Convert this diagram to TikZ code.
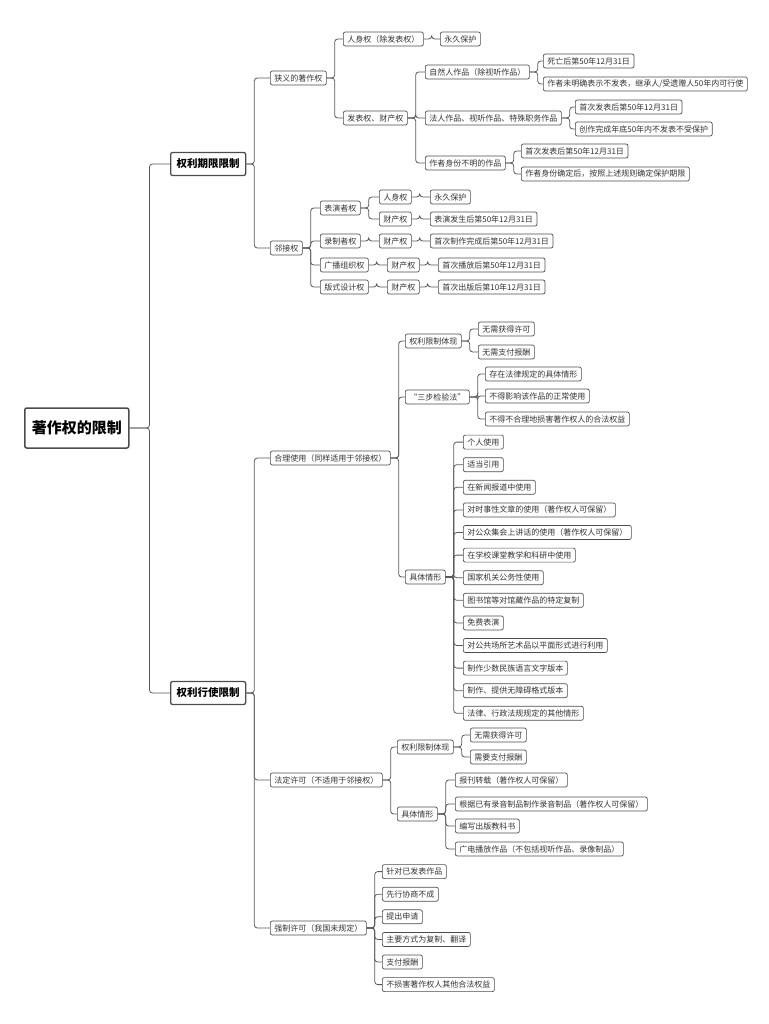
\documentclass[tikz,border=0pt]{standalone}
\usepackage{fontspec}
\setmainfont{Noto Sans CJK SC}
\begin{document}
\begin{tikzpicture}[x=1pt,y=-1pt,
 b/.style={draw=black!70,line width=0.7pt,rounded corners=2pt,anchor=west,inner xsep=4pt,inner ysep=0pt,minimum height=14pt,font=\fontsize{8}{9}\selectfont,text=black!80},
 l1/.style={b,line width=1.3pt,minimum height=23pt,inner xsep=6pt,font=\fontsize{10.5}{12}\bfseries\selectfont,text=black},
 root/.style={b,line width=1.5pt,minimum height=40pt,inner xsep=7pt,font=\fontsize{15}{17}\bfseries\selectfont,text=black},
 conn/.style={draw=black!65,line width=0.8pt,rounded corners=3pt}]
\useasboundingbox (0,0) rectangle (768,1024);
\newcommand\cn[3][8]{\draw[conn] (#2.east) -- ++(#1,0) |- (#3.west);}
\node[root] (r) at (24,428) {著作权的限制};
\node[l1] (a) at (170,164) {权利期限限制};
\node[l1] (bb) at (170,693) {权利行使限制};
\cn[20]{r}{a}\cn[20]{r}{bb}
% period
\node[b] (a1) at (270,78) {狭义的著作权};
\node[b] (a2) at (270,248) {邻接权};
\cn{a}{a1}\cn{a}{a2}
\node[b] (a11) at (343,39) {人身权（除发表权）};
\node[b] (a111) at (440,39) {永久保护};
\node[b] (a12) at (343,118) {发表权、财产权};
\cn{a1}{a11}\cn{a1}{a12}\cn{a11}{a111}
\node[b] (n1) at (425,72) {自然人作品（除视听作品）};
\node[b] (n11) at (543,61) {死亡后第50年12月31日};
\node[b] (n12) at (543,84) {作者未明确表示不发表，继承人/受遗赠人50年内可行使};
\node[b] (n2) at (425,118) {法人作品、视听作品、特殊职务作品};
\node[b] (n21) at (575,107) {首次发表后第50年12月31日};
\node[b] (n22) at (575,129) {创作完成年底50年内不发表不受保护};
\node[b] (n3) at (425,163) {作者身份不明的作品};
\node[b] (n31) at (521,151) {首次发表后第50年12月31日};
\node[b] (n32) at (521,174) {作者身份确定后，按照上述规则确定保护期限};
\cn{a12}{n1}\cn{a12}{n2}\cn{a12}{n3}
\cn{n1}{n11}\cn{n1}{n12}\cn{n2}{n21}\cn{n2}{n22}\cn{n3}{n31}\cn{n3}{n32}
\node[b] (p1) at (320,208) {表演者权};
\node[b] (p11) at (379,197) {人身权};
\node[b] (p111) at (430,197) {永久保护};
\node[b] (p12) at (379,219) {财产权};
\node[b] (p121) at (430,219) {表演发生后第50年12月31日};
\node[b] (p2) at (320,241) {录制者权};
\node[b] (p21) at (379,241) {财产权};
\node[b] (p211) at (430,241) {首次制作完成后第50年12月31日};
\node[b] (p3) at (320,265) {广播组织权};
\node[b] (p31) at (387,265) {财产权};
\node[b] (p311) at (438,265) {首次播放后第50年12月31日};
\node[b] (p4) at (320,287) {版式设计权};
\node[b] (p41) at (387,287) {财产权};
\node[b] (p411) at (438,287) {首次出版后第10年12月31日};
\cn{a2}{p1}\cn{a2}{p2}\cn{a2}{p3}\cn{a2}{p4}
\cn{p1}{p11}\cn{p1}{p12}\cn{p11}{p111}\cn{p12}{p121}
\cn{p2}{p21}\cn{p21}{p211}\cn{p3}{p31}\cn{p31}{p311}\cn{p4}{p41}\cn{p41}{p411}
% exercise
\node[b] (c1) at (270,458) {合理使用（同样适用于邻接权）};
\node[b] (c2) at (270,780) {法定许可（不适用于邻接权）};
\node[b] (c3) at (270,928) {强制许可（我国未规定）};
\cn{bb}{c1}\cn{bb}{c2}\cn{bb}{c3}
\node[b] (d1) at (405,341) {权利限制体现};
\node[b] (d11) at (478,329) {无需获得许可};
\node[b] (d12) at (478,352) {无需支付报酬};
\node[b] (d2) at (405,397) {“三步检验法”};
\node[b] (d21) at (485,374) {存在法律规定的具体情形};
\node[b] (d22) at (485,396) {不得影响该作品的正常使用};
\node[b] (d23) at (485,419) {不得不合理地损害著作权人的合法权益};
\node[b] (d3) at (405,577) {具体情形};
\cn{c1}{d1}\cn{c1}{d2}\cn{c1}{d3}
\cn{d1}{d11}\cn{d1}{d12}\cn{d2}{d21}\cn{d2}{d22}\cn{d2}{d23}
\foreach \t [count=\i] in {个人使用,适当引用,在新闻报道中使用,对时事性文章的使用（著作权人可保留）,对公众集会上讲话的使用（著作权人可保留）,在学校课堂教学和科研中使用,国家机关公务性使用,图书馆等对馆藏作品的特定复制,免费表演,对公共场所艺术品以平面形式进行利用,制作少数民族语言文字版本,{制作、提供无障碍格式版本},{法律、行政法规规定的其他情形}}{
 \node[b] (e\i) at (463,419.5+22.6*\i) {\t};
 \cn{d3}{e\i}
}
\node[b] (f1) at (397,747) {权利限制体现};
\node[b] (f11) at (470,735) {无需获得许可};
\node[b] (f12) at (470,757) {需要支付报酬};
\node[b] (f2) at (397,814) {具体情形};
\cn{c2}{f1}\cn{c2}{f2}\cn{f1}{f11}\cn{f1}{f12}
\node[b] (g1) at (455,780) {报刊转载（著作权人可保留）};
\node[b] (g2) at (455,804) {根据已有录音制品制作录音制品（著作权人可保留）};
\node[b] (g3) at (455,826) {编写出版教科书};
\node[b] (g4) at (455,849) {广电播放作品（不包括视听作品、录像制品）};
\cn{f2}{g1}\cn{f2}{g2}\cn{f2}{g3}\cn{f2}{g4}
\foreach \t [count=\i] in {针对已发表作品,先行协商不成,提出申请,{主要方式为复制、翻译},支付报酬,不损害著作权人其他合法权益}{
 \node[b] (h\i) at (382,849+22.6*\i) {\t};
 \cn{c3}{h\i}
}
\end{tikzpicture}
\end{document}
